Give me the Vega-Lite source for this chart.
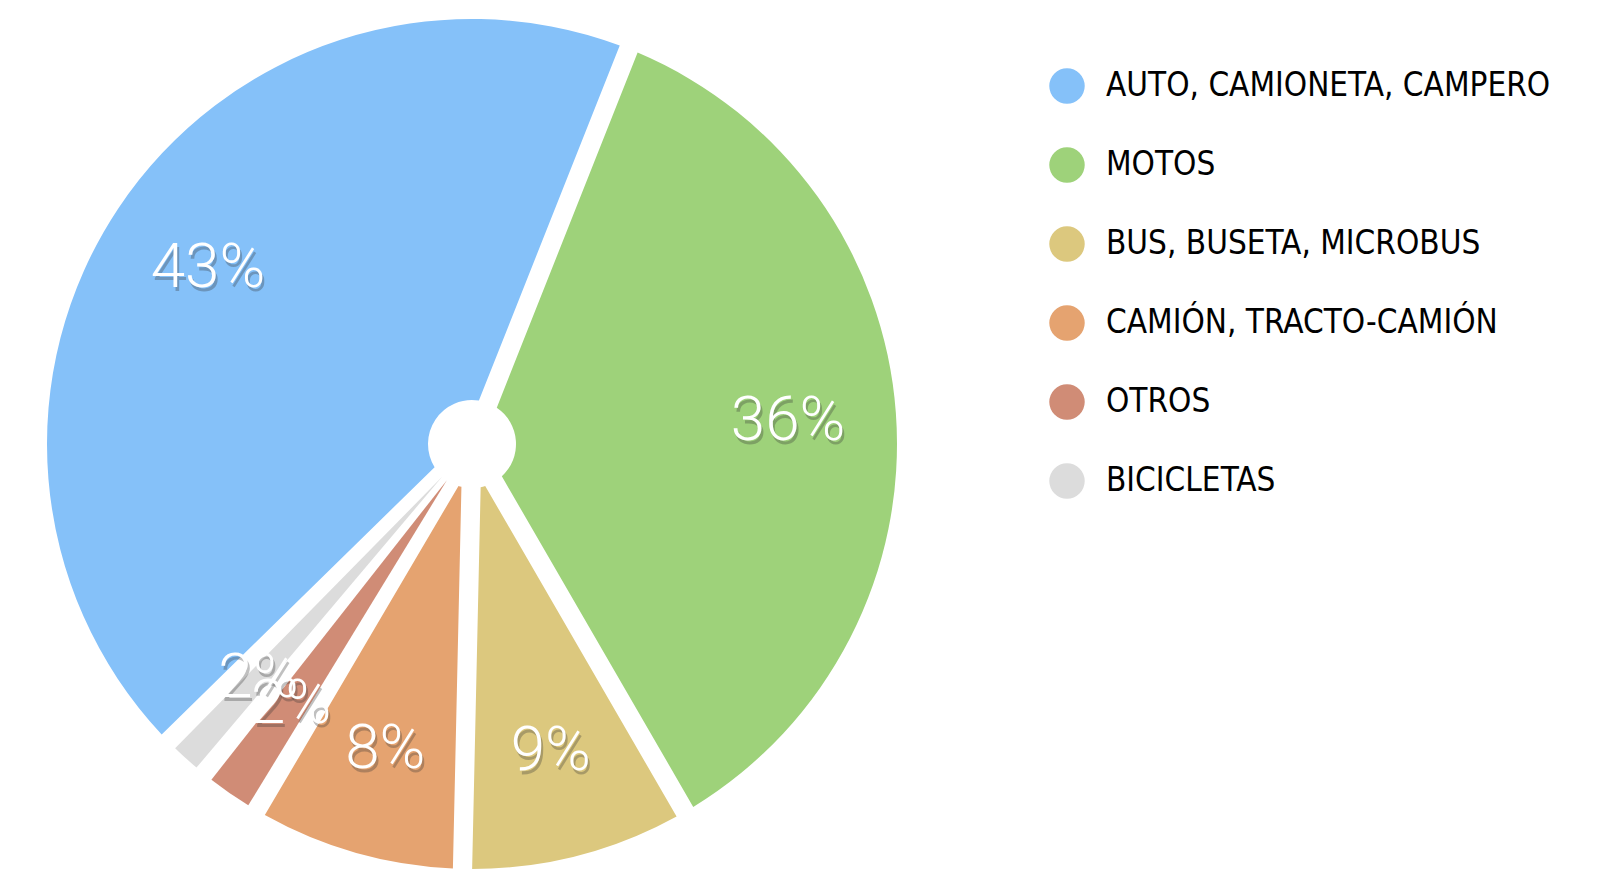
{
  "$schema": "https://vega.github.io/schema/vega-lite/v6.json",
  "width": 944,
  "height": 888,
  "padding": 0,
  "autosize": {"type": "pad"},
  "background": "white",
  "config": {"view": {"stroke": null}},
  "data": {
    "values": [
      {"tipo": "AUTO, CAMIONETA, CAMPERO", "pct": 43.3, "orden": 1, "etiqueta": "43%"},
      {"tipo": "MOTOS", "pct": 35.6, "orden": 2, "etiqueta": "36%"},
      {"tipo": "BUS, BUSETA, MICROBUS", "pct": 8.7, "orden": 3, "etiqueta": "9%"},
      {"tipo": "CAMIÓN, TRACTO-CAMIÓN", "pct": 8.1, "orden": 4, "etiqueta": "8%"},
      {"tipo": "OTROS", "pct": 2.4, "orden": 5, "etiqueta": "2%"},
      {"tipo": "BICICLETAS", "pct": 1.8, "orden": 6, "etiqueta": "2%"}
    ]
  },
  "encoding": {
    "theta": {"field": "pct", "type": "quantitative", "stack": true, "scale": {"range": [3.9375, 10.2207]}},
    "order": {"field": "orden", "type": "quantitative"}
  },
  "layer": [
    {
      "mark": {"type": "arc", "outerRadius": 425, "innerRadius": 44, "padAngle": 0.045},
      "encoding": {
        "color": {
          "field": "tipo",
          "type": "nominal",
          "sort": null,
          "scale": {
            "domain": ["AUTO, CAMIONETA, CAMPERO", "MOTOS", "BUS, BUSETA, MICROBUS", "CAMIÓN, TRACTO-CAMIÓN", "OTROS", "BICICLETAS"],
            "range": ["#85C1F9", "#9ED27A", "#DCC87E", "#E5A370", "#D08C76", "#DCDCDC"]
          },
          "legend": {
            "title": null,
            "orient": "none",
            "legendX": 1049,
            "legendY": 68,
            "padding": 0,
            "symbolType": "circle",
            "symbolSize": 1257,
            "symbolStrokeWidth": 0,
            "symbolOpacity": 1,
            "labelFont": "DejaVu Sans Condensed, sans-serif",
            "labelFontSize": 33,
            "labelColor": "#000000",
            "labelOffset": 21,
            "labelLimit": 0,
            "rowPadding": 43
          }
        }
      }
    },
    {
      "mark": {"type": "text", "radius": 317, "fontSize": 62, "font": "Roboto, sans-serif", "fontWeight": 300, "align": "center", "baseline": "middle", "dx": 2, "dy": 4, "opacity": 0.3},
      "encoding": {"text": {"field": "etiqueta"}, "color": {"value": "#333333"}}
    },
    {
      "mark": {"type": "text", "radius": 317, "fontSize": 62, "font": "Roboto, sans-serif", "fontWeight": 300, "align": "center", "baseline": "middle"},
      "encoding": {"text": {"field": "etiqueta"}, "color": {"value": "#FFFFFF"}}
    }
  ]
}
